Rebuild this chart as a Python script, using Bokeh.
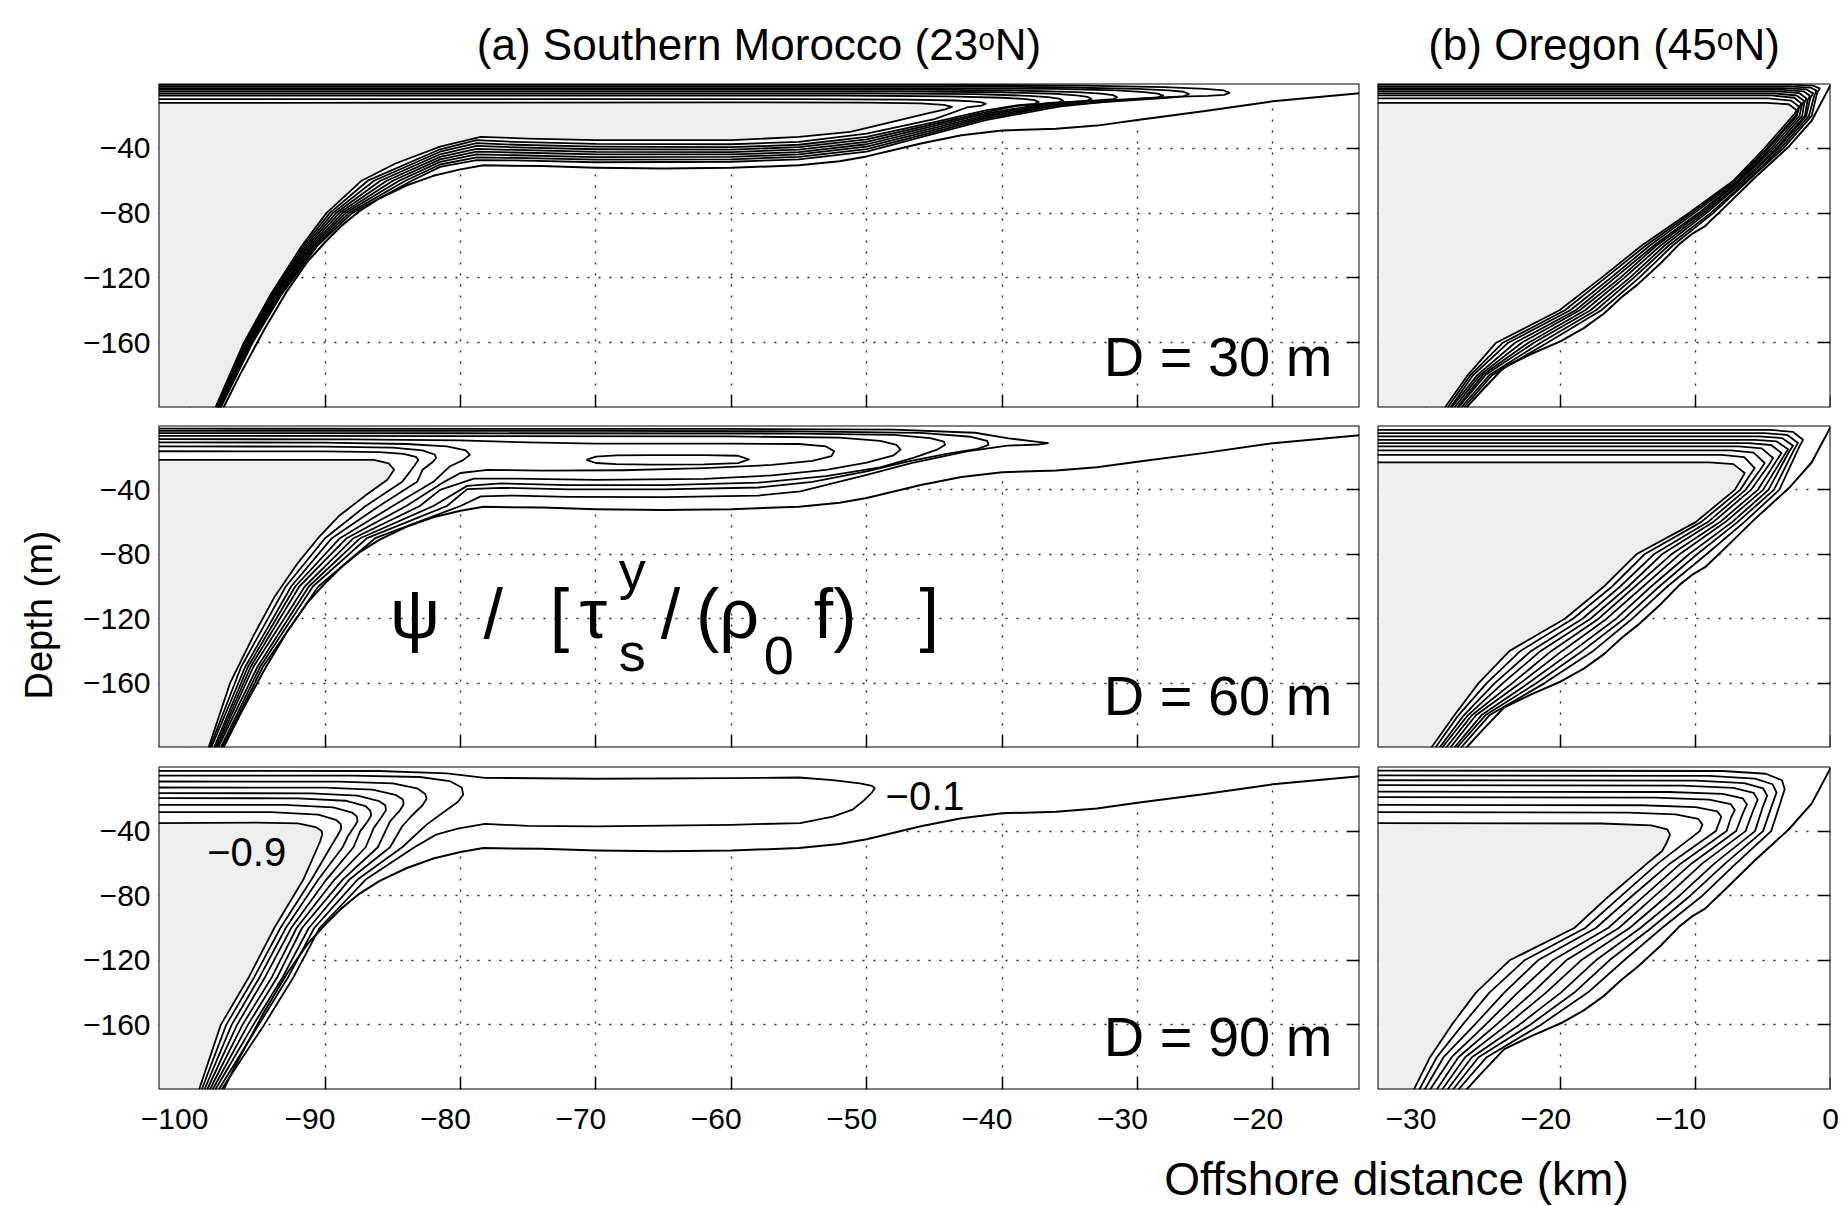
from bokeh.plotting import figure
from bokeh.layouts import column, row
from bokeh.models import Range1d, FixedTicker, LinearAxis, Label, BoxAnnotation
from bokeh.embed import file_html
from bokeh.resources import INLINE

FONT = "Liberation Sans"

# ---------------- axes ----------------
MOR_XLIM = (-102.3, -13.6)
ORE_XLIM = (-33.6, 0.0)
DEPTH_LIM = (-200.0, 0.0)
MOR_XTICKS = [-100, -90, -80, -70, -60, -50, -40, -30, -20]
ORE_XTICKS = [-30, -20, -10, 0]
DEPTH_TICKS = [-160, -120, -80, -40]
LEVELS = [-0.1, -0.2, -0.3, -0.4, -0.5, -0.6, -0.7, -0.8, -0.9]

# ---------------- bottom (psi = 0) ----------------
MOR_BOT_X = [-97.5, -96.3, -94.5, -92.8, -91.3, -90.0, -88.8, -87.5, -86.0, -84.0, -82.0, -80.0,
             -78.3, -74.0, -70.0, -65.0, -60.0, -55.0, -52.0, -50.0, -48.0, -46.0, -43.0, -40.0,
             -36.0, -33.0, -30.0, -25.0, -20.0, -13.6]
MOR_BOT_Z = [-200, -180, -152, -128, -110, -98, -88, -79, -71, -63, -57, -53,
             -50.5, -51, -52, -52.5, -52, -50.5, -48, -45, -41, -37, -32, -29,
             -28, -26, -22.5, -17, -11, -6]
ORE_BOT_X = [-27.0, -25.9, -24.2, -22.2, -20.0, -18.3, -16.8, -15.5, -14.3, -12.6, -11.2, -10.3,
             -9.3, -7.8, -5.6, -3.1, -1.4, 0.0]
ORE_BOT_Z = [-200, -190, -175, -167, -159, -151, -142, -132, -124, -111, -99, -93,
             -88, -76, -58, -39, -23, -1]

# ---------------- (a) Morocco, D = 30 m : contours -0.1 ... -0.9 ----------------
A30_X = [
    [-102.3, -45, -34, -28, -25, -23.6, -23.2, -23.6, -24.8, -27.5, -30.3, -35.8, -41.2, -45, -50, -55, -60, -70, -76, -78.8, -81.5, -83.6, -88.0, -90.55, -93.2, -95.35, -97.7],
    [-102.3, -45, -36, -30, -27.7, -26.6, -26.2, -26.6, -27.8, -30.3, -35.8, -41.2, -45, -50, -55, -60, -70, -76, -78.8, -81.5, -84.06, -88.24, -90.69, -93.3, -95.43, -97.75],
    [-102.3, -45, -36, -31.5, -29.5, -28.5, -28.1, -28.5, -29.8, -32, -35.8, -41.2, -45, -50, -55, -60, -70, -76, -78.8, -81.5, -84.53, -88.48, -90.84, -93.4, -95.51, -97.8],
    [-102.3, -47, -39, -34.5, -32.7, -31.8, -31.5, -31.8, -33, -35.8, -41.2, -45, -50, -55, -60, -70, -76, -78.8, -81.5, -84.99, -88.71, -90.98, -93.5, -95.59, -97.85],
    [-102.3, -48, -40, -36, -34.5, -33.7, -33.4, -33.7, -34.8, -36.5, -41.2, -45, -50, -55, -60, -70, -76, -78.8, -81.5, -85.45, -88.95, -91.13, -93.6, -95.68, -97.9],
    [-102.3, -50, -42, -38, -36.6, -35.8, -35.5, -35.8, -37, -39, -41.2, -45, -50, -55, -60, -70, -76, -78.8, -81.5, -85.91, -89.19, -91.27, -93.7, -95.76, -97.95],
    [-102.3, -52, -44, -40, -38.4, -37.6, -37.3, -37.6, -38.8, -41.2, -45, -50, -55, -60, -70, -76, -78.8, -81.5, -86.38, -89.43, -91.41, -93.8, -95.84, -98.0],
    [-102.3, -55, -47, -43.5, -42.2, -41.5, -41.2, -41.5, -42.6, -45, -50, -55, -60, -70, -76, -78.8, -81.5, -86.84, -89.66, -91.56, -93.9, -95.92, -98.05],
    [-102.3, -80, -60, -50, -46, -44.3, -43.7, -44.2, -45.5, -48.5, -51.2, -55, -60, -70, -75, -78.5, -81.5, -84.8, -87.3, -89.9, -91.7, -94.0, -96.0, -98.1],
]
A30_Z = [
    [-0.8, -0.8, -1.3, -2.2, -3.3, -4.3, -5.8, -7.0, -7.6, -8.3, -9.5, -14.3, -22.6, -31.0, -42.0, -46.8, -48.3, -48.6, -47.5, -47.3, -51.5, -60, -80, -100, -130, -160, -200],
    [-1.8, -1.8, -2.3, -3.3, -4.2, -5.1, -6.5, -7.9, -8.8, -10.2, -13.4, -21.6, -29.8, -40.5, -45.3, -46.8, -47.0, -45.9, -45.6, -50.0, -60, -80, -100, -130, -160, -200],
    [-2.8, -2.8, -3.3, -4.3, -5.3, -6.2, -7.5, -8.6, -9.3, -10.3, -12.6, -20.6, -28.6, -39.0, -43.8, -45.3, -45.4, -44.3, -43.8, -48.4, -60, -80, -100, -130, -160, -200],
    [-3.8, -3.8, -4.3, -5.3, -6.3, -7.2, -8.5, -9.6, -10.4, -11.8, -19.6, -27.4, -37.5, -42.3, -43.8, -43.8, -42.6, -42.0, -46.8, -60, -80, -100, -130, -160, -200],
    [-4.9, -4.9, -5.4, -6.4, -7.3, -8.2, -9.5, -10.6, -11.3, -12.0, -18.6, -26.2, -36.0, -40.8, -42.3, -42.2, -41.0, -40.3, -45.3, -60, -80, -100, -130, -160, -200],
    [-6.1, -6.1, -6.6, -7.6, -8.4, -9.3, -10.5, -11.6, -12.4, -14.0, -17.6, -25.0, -34.5, -39.3, -40.8, -40.6, -39.4, -38.5, -43.7, -60, -80, -100, -130, -160, -200],
    [-7.4, -7.4, -7.9, -8.8, -9.5, -10.3, -11.5, -12.6, -13.4, -16.6, -23.8, -33.0, -37.8, -39.3, -39.0, -37.8, -36.8, -42.1, -60, -80, -100, -130, -160, -200],
    [-9.6, -9.6, -9.9, -10.5, -11.0, -11.6, -12.5, -13.6, -14.8, -22.0, -31.0, -36.0, -37.5, -37.3, -36.0, -35.0, -40.6, -60, -80, -100, -130, -160, -200],
    [-12.0, -11.8, -11.6, -11.8, -12.3, -13.2, -14.5, -16.0, -18.5, -24.5, -29.8, -33.0, -35.0, -35.0, -34.0, -33.0, -39.0, -49.4, -60, -80, -100, -130, -160, -200],
]

# ---------------- (a) Morocco, D = 60 m ----------------
A60_X = [
    [-102.3, -60, -48, -42, -39.5, -37.5, -36.6, -37.3, -39.6, -42.6, -46.7, -50, -54.9, -58, -65, -72, -76, -78.5, -80.0, -86.3, -90.5, -94.6, -97.6],
    [-102.3, -70, -55, -46, -42.3, -41.1, -41.0, -41.8, -44, -47, -50, -54, -58, -65, -72, -77, -79.5, -81.0, -86.9, -90.9, -94.8, -97.7],
    [-102.3, -80, -55, -48, -45.3, -44.3, -44.2, -44.8, -46.5, -49, -53, -58, -65, -72, -77, -79.5, -82.0, -87.4, -91.2, -95.0, -97.9],
    [-102.3, -80, -60, -52, -49, -47.8, -47.5, -48, -50, -53, -57, -62, -70, -76, -79, -81.5, -83.0, -87.9, -91.5, -95.3, -98.0],
    [-102.3, -88, -80, -75, -70, -60, -55, -53, -52.4, -52.6, -54, -57, -62, -68, -74, -78, -80, -81.2, -84.0, -88.4, -91.9, -95.5, -98.1],
    [-102.3, -90, -84, -81, -79.6, -79.3, -79.8, -80.8, -82.0, -85.0, -88.9, -92.2, -95.7, -98.2],
    [-102.3, -90, -85, -82.8, -81.9, -81.8, -82.1, -82.8, -83.2, -86.0, -89.5, -92.5, -95.9, -98.4],
    [-102.3, -90, -86, -84.2, -83.3, -83.1, -83.4, -84.3, -87.0, -90.0, -92.9, -96.2, -98.5],
    [-102.3, -90, -86.4, -85.3, -84.9, -85.4, -87.1, -89.0, -90.4, -92.0, -93.7, -95.3, -97.0, -98.6],
    [-70.7, -70.0, -68.5, -66, -62, -59.5, -58.7, -59.5, -62, -66, -68.5, -70.0, -70.7],
]
A60_Z = [
    [-2.0, -2.1, -2.6, -4.5, -8.0, -10.0, -11.0, -11.8, -12.5, -16.1, -23.3, -30.6, -40.9, -43.5, -44.5, -44.3, -43.5, -44.0, -50.0, -70, -100, -150, -200],
    [-3.3, -3.4, -3.6, -4.6, -7.0, -9.5, -12.0, -14.5, -17.5, -22.5, -28.5, -35.0, -38.5, -39.7, -39.7, -38.7, -39.5, -50.0, -70, -100, -150, -200],
    [-4.7, -4.8, -5.0, -5.8, -7.8, -10.0, -12.0, -15.0, -20.0, -26.0, -31.5, -35.5, -37.0, -37.0, -36.0, -37.5, -50.0, -70, -100, -150, -200],
    [-6.4, -6.6, -6.8, -7.5, -9.5, -12.0, -15.0, -18.5, -23.0, -27.5, -31.0, -33.2, -33.8, -33.0, -33.0, -40.0, -50.0, -70, -100, -150, -200],
    [-8.5, -8.6, -9.3, -10.5, -11.2, -11.3, -11.5, -13.0, -16.0, -19.0, -22.0, -24.5, -26.5, -27.8, -28.0, -27.5, -29.5, -35.0, -50.0, -70, -100, -150, -200],
    [-10.5, -10.6, -11.5, -13.0, -15.5, -18.2, -21.5, -25.5, -35.0, -50.0, -70, -100, -150, -200],
    [-13.0, -13.1, -13.8, -15.5, -18.0, -20.2, -23.0, -27.5, -35.0, -50.0, -70, -100, -150, -200],
    [-16.0, -16.1, -16.5, -17.6, -19.5, -21.3, -25.0, -35.0, -50.0, -70, -100, -150, -200],
    [-21.3, -21.3, -21.4, -23.5, -27.5, -33.7, -44.0, -56.4, -68.8, -85.3, -106, -130.8, -159.7, -200],
    [-21.3, -19.3, -18.6, -18.4, -18.4, -18.8, -21.0, -23.4, -24.2, -24.3, -24.0, -23.3, -21.3],
]

# ---------------- (a) Morocco, D = 90 m ----------------
A90_HEAD_X = [
    [-102.3, -86, -81, -78.2, -70, -60, -55, -52.5, -50.5, -49.6, -49.4, -49.6, -50.2, -51.0, -52.5, -54.9, -60, -70, -75, -78.2, -80.2, -81.8],
    [-102.3, -88, -83, -80.8, -79.9, -79.8, -80.2, -81.2, -82.5],
    [-102.3, -89, -85, -83.2, -82.6, -82.5, -82.8, -83.6, -84.3],
    [-102.3, -90, -86.5, -84.8, -84.25, -84.2, -84.5, -85.2],
    [-102.3, -91, -87.6, -86.0, -85.55, -85.5, -85.8, -86.4],
    [-102.3, -92, -88.5, -87.0, -86.65, -86.6, -86.9, -87.4],
    [-102.3, -93, -89.4, -88.0, -87.65, -87.6, -87.9, -88.3],
    [-102.3, -94, -90.5, -89.2, -88.85, -88.8, -89.1],
    [-102.3, -95, -92, -90.7, -90.25, -90.2, -90.35],
]
A90_HEAD_Z = [
    [-2.7, -2.8, -4.3, -7.0, -7.6, -7.2, -6.8, -8.5, -10.5, -12.0, -13.4, -16.0, -21.0, -26.5, -31.0, -35.0, -36.1, -37.1, -36.8, -35.5, -38.5, -42.2],
    [-5.6, -5.7, -6.5, -9.0, -13.0, -17.5, -22.0, -28.0, -36.0],
    [-9.3, -9.4, -10.5, -13.5, -17.0, -20.0, -24.0, -30.5, -37.0],
    [-13.0, -13.1, -14.3, -17.5, -20.5, -23.5, -27.5, -34.0],
    [-16.5, -16.6, -18.0, -21.5, -24.0, -27.0, -31.0, -38.0],
    [-19.6, -19.7, -21.2, -24.5, -27.5, -30.5, -34.5, -40.0],
    [-23.7, -23.8, -25.3, -28.5, -31.0, -34.0, -38.0, -43.0],
    [-28.2, -28.3, -29.8, -33.0, -35.5, -38.5, -43.0],
    [-35.0, -34.8, -35.2, -37.5, -40.0, -42.0, -46.0],
]
A90_SLOPE_Z = [-50, -70, -100, -130, -160, -200]
A90_SLOPE_X = [
    [-83.4, -87.0, -90.4, -92.3, -94.5, -97.65],
    [-84.3, -87.6, -90.8, -92.7, -94.9, -97.85],
    [-85.2, -88.2, -91.2, -93.1, -95.3, -98.1],
    [-86.1, -88.7, -91.7, -93.5, -95.7, -98.3],
    [-87.0, -89.3, -92.1, -93.9, -96.1, -98.5],
    [-87.9, -89.9, -92.5, -94.4, -96.5, -98.7],
    [-88.7, -90.5, -92.9, -94.8, -96.9, -98.9],
    [-89.6, -91.0, -93.3, -95.2, -97.3, -99.1],
    [-90.55, -91.6, -93.75, -95.6, -97.7, -99.3],
]

# ---------------- (b) Oregon, D = 30 m ----------------
B30_HEAD_X = [
    [-33.6, -3.0, -1.3, -0.8, -1.0],
    [-33.6, -3.2, -1.5, -1.04, -1.2],
    [-33.6, -3.5, -1.8, -1.29, -1.5],
    [-33.6, -3.8, -2.0, -1.53, -1.7],
    [-33.6, -4.0, -2.3, -1.78, -1.95],
    [-33.6, -4.2, -2.5, -1.96, -2.15],
    [-33.6, -4.4, -2.7, -2.15, -2.35],
    [-33.6, -4.6, -2.9, -2.33, -2.5],
    [-33.6, -4.8, -3.1, -2.52, -2.65],
]
B30_HEAD_Z = [
    [-0.7, -0.7, -1.3, -3.0, -6.0],
    [-1.8, -1.8, -2.5, -4.4, -7.4],
    [-2.8, -2.8, -3.6, -6.1, -9.0],
    [-3.8, -3.8, -4.8, -7.5, -10.5],
    [-4.8, -4.8, -6.0, -9.2, -12.2],
    [-6.1, -6.1, -7.4, -10.8, -13.8],
    [-7.3, -7.3, -8.8, -12.3, -15.3],
    [-9.2, -9.2, -10.6, -14.3, -17.3],
    [-11.9, -11.9, -12.8, -16.4, -18.5],
]
B30_SLOPE_Z = [-20, -40, -60, -80, -100, -120, -140, -160, -180, -200]
B30_SLOPE_X = [
    [-1.4, -3.5, -6.1, -8.7, -11.7, -14.2, -17.0, -21.0, -25.1, -27.2],
    [-1.6, -3.7, -6.2, -8.9, -12.0, -14.6, -17.4, -21.5, -25.3, -27.4],
    [-1.8, -3.9, -6.4, -9.2, -12.3, -14.9, -17.8, -22.0, -25.6, -27.6],
    [-1.9, -4.0, -6.5, -9.4, -12.6, -15.3, -18.2, -22.4, -25.8, -27.7],
    [-2.1, -4.2, -6.7, -9.6, -12.9, -15.6, -18.6, -22.9, -26.0, -27.9],
    [-2.3, -4.4, -6.8, -9.8, -13.1, -16.0, -18.9, -23.4, -26.2, -28.1],
    [-2.5, -4.6, -6.9, -10.1, -13.4, -16.3, -19.3, -23.9, -26.5, -28.2],
    [-2.6, -4.7, -7.1, -10.3, -13.7, -16.7, -19.7, -24.3, -26.7, -28.4],
    [-2.8, -4.9, -7.2, -10.5, -14.0, -17.0, -20.1, -24.8, -26.9, -28.6],
]

# ---------------- (b) Oregon, D = 60 m ----------------
B60_HEAD_X = [
    [-33.6, -4.5, -2.8, -2.04, -2.3],
    [-33.6, -4.9, -3.2, -2.41, -2.7],
    [-33.6, -5.3, -3.6, -2.78, -3.1],
    [-33.6, -5.6, -4.0, -3.15, -3.45],
    [-33.6, -6.1, -4.4, -3.64, -3.95],
    [-33.6, -6.8, -5.1, -4.26, -4.55],
    [-33.6, -7.4, -5.7, -4.88, -5.2],
    [-33.6, -8.1, -6.4, -5.62, -5.95],
    [-33.6, -9.0, -7.2, -6.36, -6.7],
]
B60_HEAD_Z = [
    [-2.7, -2.7, -3.9, -8.9, -13.0],
    [-4.7, -4.7, -5.9, -10.9, -15.0],
    [-6.8, -6.8, -7.8, -12.6, -16.6],
    [-8.9, -8.9, -9.9, -14.7, -18.7],
    [-10.9, -10.9, -12.1, -17.1, -21.1],
    [-13.0, -13.0, -14.2, -20.2, -24.2],
    [-15.5, -15.5, -16.9, -23.3, -27.3],
    [-18.2, -18.2, -19.6, -26.4, -30.4],
    [-22.9, -22.9, -24.0, -29.5, -34.5],
]
B60_SLOPE_Z = [-40, -60, -80, -100, -120, -140, -160, -180, -200]
B60_SLOPE_X = [
    [-3.8, -6.4, -9.2, -12.1, -14.7, -17.6, -21.2, -25.3, -27.4],
    [-4.2, -6.9, -9.9, -12.7, -15.3, -18.4, -21.8, -25.6, -27.7],
    [-4.6, -7.3, -10.5, -13.3, -15.9, -19.1, -22.4, -25.9, -27.9],
    [-5.0, -7.8, -11.2, -13.9, -16.6, -19.9, -23.0, -26.3, -28.2],
    [-5.4, -8.2, -11.8, -14.5, -17.2, -20.7, -23.6, -26.6, -28.5],
    [-5.9, -8.7, -12.5, -15.0, -17.8, -21.5, -24.3, -26.9, -28.8],
    [-6.3, -9.1, -13.1, -15.6, -18.4, -22.2, -24.9, -27.2, -29.0],
    [-6.7, -9.6, -13.8, -16.2, -19.1, -23.0, -25.5, -27.6, -29.3],
    [-7.1, -10.0, -14.4, -16.8, -19.7, -23.8, -26.1, -27.9, -29.6],
]

# ---------------- (b) Oregon, D = 90 m ----------------
B90_HEAD_X = [
    [-33.6, -8, -4.8, -3.6, -3.4, -3.7, -4.4],
    [-33.6, -9, -5.6, -4.3, -4.0, -4.3, -5.0],
    [-33.6, -10, -6.4, -5.0, -4.7, -5.0, -5.6],
    [-33.6, -11, -7.2, -5.7, -5.4, -5.7, -6.3],
    [-33.6, -12, -8.0, -6.5, -6.2, -6.5, -7.0],
    [-33.6, -13, -9.0, -7.4, -7.1, -7.4, -7.7],
    [-33.6, -14, -10.0, -8.4, -8.1, -8.3, -8.5],
    [-33.6, -15, -11.5, -9.8, -9.5, -9.7],
    [-33.6, -17, -13.3, -12.1, -11.9, -12.2, -12.5],
]
B90_HEAD_Z = [
    [-2.5, -2.8, -4.5, -8.5, -14.0, -22.0, -40.0],
    [-5.5, -5.8, -7.5, -11.0, -16.0, -23.0, -40.0],
    [-8.5, -8.8, -10.3, -13.5, -18.0, -24.5, -40.0],
    [-11.5, -11.8, -13.2, -16.3, -20.5, -26.5, -40.0],
    [-15.5, -15.8, -17.0, -19.8, -23.5, -29.0, -40.0],
    [-19.0, -19.3, -20.5, -23.3, -27.0, -32.0, -40.0],
    [-23.7, -24.0, -25.2, -27.8, -31.0, -35.5, -40.0],
    [-28.2, -28.5, -29.7, -32.5, -36.0, -40.0],
    [-35.0, -35.3, -36.5, -39.0, -42.3, -48.0, -52.5],
]
B90_SLOPE_Z = [-60, -80, -100, -120, -140, -160, -180, -200]
B90_SLOPE_X = [
    [-7.0, -9.5, -12.5, -15.3, -18.0, -21.5, -25.5, -27.6],
    [-7.8, -10.4, -13.3, -16.4, -19.0, -22.3, -26.1, -28.0],
    [-8.6, -11.2, -14.1, -17.4, -20.0, -23.1, -26.6, -28.4],
    [-9.5, -12.1, -14.9, -18.5, -21.1, -24.0, -27.1, -28.8],
    [-10.3, -13.0, -15.7, -19.6, -22.1, -24.8, -27.6, -29.2],
    [-11.1, -13.8, -16.5, -20.6, -23.2, -25.6, -28.1, -29.7],
    [-11.9, -14.7, -17.4, -21.7, -24.2, -26.4, -28.7, -30.1],
    [-12.8, -15.5, -18.2, -22.7, -25.3, -27.3, -29.2, -30.5],
    [-13.6, -16.4, -19.0, -23.8, -26.3, -28.1, -29.7, -30.9],
]


def joined(head_x, head_z, slope_x, slope_z):
    xs = [list(h) + list(s) for h, s in zip(head_x, slope_x)]
    zs = [list(h) + list(slope_z) for h in head_z]
    return xs, zs


A90_X, A90_Z = joined(A90_HEAD_X, A90_HEAD_Z, A90_SLOPE_X, A90_SLOPE_Z)
B30_X, B30_Z = joined(B30_HEAD_X, B30_HEAD_Z, B30_SLOPE_X, B30_SLOPE_Z)
B60_X, B60_Z = joined(B60_HEAD_X, B60_HEAD_Z, B60_SLOPE_X, B60_SLOPE_Z)
B90_X, B90_Z = joined(B90_HEAD_X, B90_HEAD_Z, B90_SLOPE_X, B90_SLOPE_Z)


def minus(t, pad=""):
    return ("\u2212" + str(abs(t)) + pad) if t < 0 else str(t)


def tick_axis(ticks):
    # inward ticks only; drawn under the fills like the original
    return LinearAxis(ticker=FixedTicker(ticks=ticks), major_tick_in=12, major_tick_out=0,
                      major_tick_line_width=1.5, major_tick_line_color="black",
                      minor_tick_line_color=None, axis_line_color=None,
                      major_label_text_color=None, major_label_text_font_size="1px",
                      major_label_standoff=0, level="underlay")


def label_axis(ticks, standoff, pad=""):
    return LinearAxis(ticker=FixedTicker(ticks=ticks), major_tick_in=0, major_tick_out=0,
                      major_tick_line_color=None, minor_tick_line_color=None,
                      axis_line_color=None, major_label_text_font=FONT,
                      major_label_text_color="black",
                      major_label_text_font_size="30px", major_label_standoff=standoff,
                      major_label_overrides={t: minus(t, pad) for t in ticks})


def make_panel(xlim, xticks, fw, fh, bl, br, bt, bb, show_x, show_y, title=None, ylabel=None):
    p = figure(x_range=Range1d(*xlim), y_range=Range1d(*DEPTH_LIM),
               frame_width=fw, frame_height=fh,
               min_border_left=bl, min_border_right=br, min_border_top=bt, min_border_bottom=bb,
               output_backend="svg", toolbar_location=None, tools="", title=title,
               x_axis_location=None, y_axis_location=None,
               background_fill_color="white", border_fill_color="white",
               outline_line_color=None)
    if title is not None:
        p.title.align = "center"
        p.title.text_font = FONT
        p.title.text_font_size = "44px"
        p.title.text_font_style = "normal"
        p.title.text_color = "black"
        p.title.standoff = 29
    p.add_layout(tick_axis(xticks), "below")
    if show_x:
        p.add_layout(label_axis(xticks, 12, "\u2003"), "below")
    p.add_layout(tick_axis(DEPTH_TICKS), "left")
    if show_y:
        yl = label_axis(DEPTH_TICKS, 8)
        if ylabel:
            yl.axis_label = ylabel
            yl.axis_label_text_font = FONT
            yl.axis_label_text_font_size = "38px"
            yl.axis_label_text_font_style = "normal"
            yl.axis_label_text_color = "black"
            yl.axis_label_standoff = 20
        p.add_layout(yl, "left")
    p.add_layout(tick_axis(DEPTH_TICKS), "right")
    p.xgrid.ticker = FixedTicker(ticks=xticks)
    p.ygrid.ticker = FixedTicker(ticks=DEPTH_TICKS)
    p.grid.grid_line_color = "black"
    p.grid.grid_line_dash = "2 9"
    p.grid.grid_line_width = 1.4
    p.grid.grid_line_alpha = 0.85
    return p


def draw(p, xlim, bot_x, bot_z, xs, zs):
    xmin = xlim[0]
    wx = [xmin] + list(bot_x) + [bot_x[-1], xmin]
    wz = [DEPTH_LIM[0]] + list(bot_z) + [0.0, 0.0]
    p.patch(wx, wz, fill_color="white", line_color=None)
    gx = list(xs[8]) + [xmin]
    gz = list(zs[8]) + [DEPTH_LIM[0]]
    p.patch(gx, gz, fill_color="#eeeeee", line_color=None)
    p.multi_line(xs, zs, line_color="black", line_width=1.8, line_join="round")
    p.line(bot_x, bot_z, line_color="black", line_width=2.0, line_join="round")
    p.add_layout(BoxAnnotation(fill_alpha=0, fill_color=None, line_color="black",
                               line_alpha=1.0, line_width=2.0, level="overlay"))


def dlabel(p, txt, z):
    p.add_layout(Label(x=-15.6, y=z, text=txt, text_align="right", text_baseline="alphabetic",
                       text_font=FONT, text_font_size="56px", text_color="black"))


LW, RW = 1201, 453
a1 = make_panel(MOR_XLIM, MOR_XTICKS, LW, 324, 158, 9, 83, 9, False, True,
                title="(a) Southern Morocco (23\u1d52N)")
b1 = make_panel(ORE_XLIM, ORE_XTICKS, RW, 324, 9, 17, 83, 9, False, False,
                title="(b) Oregon (45\u1d52N)")
a2 = make_panel(MOR_XLIM, MOR_XTICKS, LW, 322, 158, 9, 9, 9, False, True,
                ylabel="Depth (m)\u2003\u2002")
b2 = make_panel(ORE_XLIM, ORE_XTICKS, RW, 322, 9, 17, 9, 9, False, False)
a3 = make_panel(MOR_XLIM, MOR_XTICKS, LW, 323, 158, 9, 10, 60, True, True)
b3 = make_panel(ORE_XLIM, ORE_XTICKS, RW, 323, 9, 17, 10, 60, True, False)

draw(a1, MOR_XLIM, MOR_BOT_X, MOR_BOT_Z, A30_X, A30_Z)
draw(a2, MOR_XLIM, MOR_BOT_X, MOR_BOT_Z, A60_X, A60_Z)
draw(a3, MOR_XLIM, MOR_BOT_X, MOR_BOT_Z, A90_X, A90_Z)
draw(b1, ORE_XLIM, ORE_BOT_X, ORE_BOT_Z, B30_X, B30_Z)
draw(b2, ORE_XLIM, ORE_BOT_X, ORE_BOT_Z, B60_X, B60_Z)
draw(b3, ORE_XLIM, ORE_BOT_X, ORE_BOT_Z, B90_X, B90_Z)

dlabel(a1, "D = 30 m", -168.5)
dlabel(a2, "D = 60 m", -168.0)
dlabel(a3, "D = 90 m", -167.0)

# contour labels
for txt, x, z in (("\u22120.9", -98.7, -53.0), ("\u22120.1", -48.6, -18.5)):
    a3.add_layout(Label(x=x, y=z, text=txt, text_font=FONT, text_font_size="40px",
                        text_baseline="alphabetic", text_color="black"))

# normalisation formula
MAIN, SMALL = "70px", "54px"
for txt, x, z, size in (("\u03c8", -85.2, -117.0, MAIN), ("/", -78.3, -117.0, MAIN),
                        ("[", -73.4, -117.0, MAIN), ("\u03c4", -71.2, -117.0, MAIN),
                        ("y", -68.3, -89.5, SMALL), ("s", -68.3, -140.5, SMALL),
                        ("/", -65.2, -117.0, MAIN), ("(\u03c1", -62.6, -117.0, MAIN),
                        ("0", -57.6, -143.0, SMALL), ("f)", -53.9, -117.0, MAIN),
                        ("]", -46.1, -117.0, MAIN)):
    a2.add_layout(Label(x=x, y=z, text=txt, text_font=FONT, text_font_size=size,
                        text_baseline="alphabetic", text_color="black"))

# x-axis title strip
xl = figure(width=1847, height=57, x_range=Range1d(0, 1847), y_range=Range1d(0, 57),
            output_backend="svg", toolbar_location=None, tools="", min_border=0,
            outline_line_color=None)
xl.axis.visible = False
xl.grid.visible = False
xl.add_layout(Label(x=1396, y=28, text="Offshore distance (km)", text_align="center",
                    text_baseline="middle", text_font=FONT, text_font_size="46px",
                    text_color="black"))

layout = column(row(a1, b1), row(a2, b2), row(a3, b3), xl)
open("out.html", "w").write(file_html(layout, INLINE))
